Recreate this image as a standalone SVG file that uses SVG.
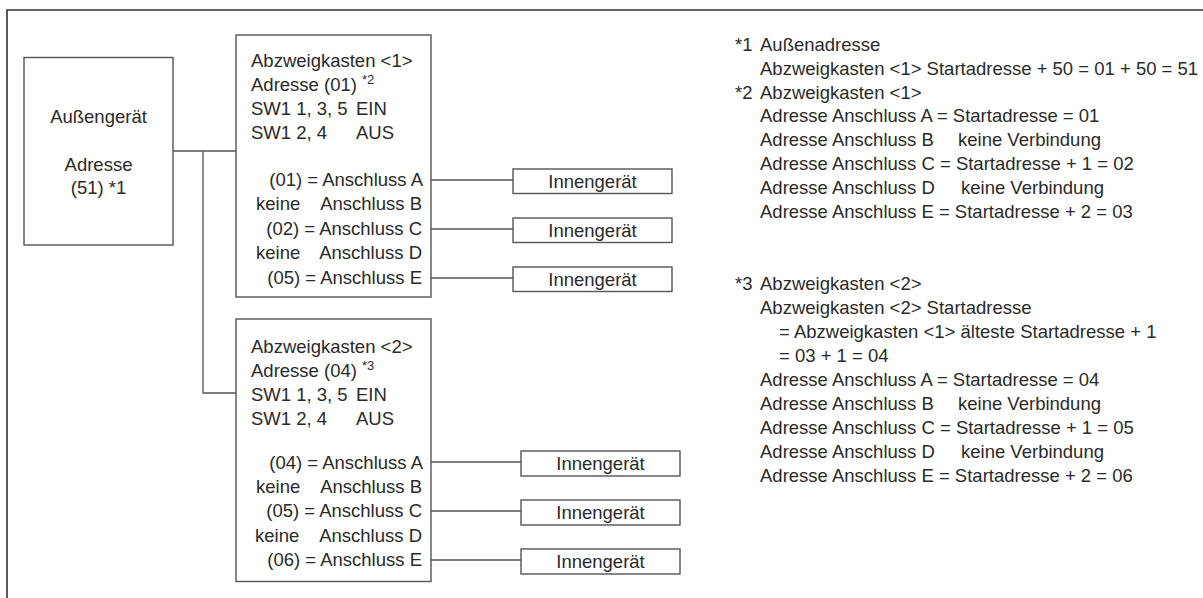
<svg xmlns="http://www.w3.org/2000/svg" width="1203" height="598" viewBox="0 0 1203 598">
<style>
text{font-family:"Liberation Sans",Arial,sans-serif;font-size:18.5px;fill:#2a2a2a}
.box{fill:#fff;stroke:#555;stroke-width:1.4}
.ln{fill:none;stroke:#555;stroke-width:1.3}
.frame{fill:none;stroke:#333;stroke-width:1.6}
.c{text-anchor:middle}
.r{text-anchor:end}
.sup{font-size:13px}
</style>
<rect width="1203" height="598" fill="#fff"/>
<path class="frame" d="M7 598V10H1203"/>
<g id="connectors">
<path class="ln" d="M173 151H236M203 151V393H236"/>
<path class="ln" d="M431 180H513M431 229H513M431 278H513"/>
<path class="ln" d="M431 462H521M431 511H521M431 560H521"/>
</g>
<g id="outdoor">
<rect class="box" x="24" y="57.5" width="149" height="187.5"/>
<text class="c" x="98.5" y="123">Außengerät</text>
<text class="c" x="98.5" y="171">Adresse</text>
<text class="c" x="98.5" y="194">(51) *1</text>
</g>
<g id="branch1">
<rect class="box" x="236" y="35" width="195" height="262"/>
<text x="251" y="67">Abzweigkasten &lt;1&gt;</text>
<text x="251" y="91">Adresse (01) <tspan class="sup" dy="-7">*2</tspan></text>
<text x="251" y="115">SW1 1, 3, 5</text><text x="356" y="115">EIN</text>
<text x="251" y="139">SW1 2, 4</text><text x="356" y="139">AUS</text>
<text class="r" x="423" y="186">(01) = Anschluss A</text>
<text x="256" y="210">keine</text><text class="r" x="422" y="210">Anschluss B</text>
<text class="r" x="422" y="235">(02) = Anschluss C</text>
<text x="256" y="259">keine</text><text class="r" x="422" y="259">Anschluss D</text>
<text class="r" x="422" y="284">(05) = Anschluss E</text>
</g>
<g id="branch2">
<rect class="box" x="236" y="319" width="195" height="262.5"/>
<text x="251" y="353">Abzweigkasten &lt;2&gt;</text>
<text x="251" y="377">Adresse (04) <tspan class="sup" dy="-7">*3</tspan></text>
<text x="251" y="401">SW1 1, 3, 5</text><text x="356" y="401">EIN</text>
<text x="251" y="425">SW1 2, 4</text><text x="356" y="425">AUS</text>
<text class="r" x="423" y="469">(04) = Anschluss A</text>
<text x="256" y="493">keine</text><text class="r" x="422" y="493">Anschluss B</text>
<text class="r" x="422" y="517">(05) = Anschluss C</text>
<text x="255" y="542">keine</text><text class="r" x="422" y="542">Anschluss D</text>
<text class="r" x="422" y="566">(06) = Anschluss E</text>
</g>
<g id="indoor1"><rect class="box" x="513" y="169" width="159" height="24.5"/><text class="c" x="592.5" y="187.5">Innengerät</text></g>
<g id="indoor2"><rect class="box" x="513" y="218" width="159" height="24.5"/><text class="c" x="592.5" y="236.5">Innengerät</text></g>
<g id="indoor3"><rect class="box" x="513" y="267" width="159" height="24.5"/><text class="c" x="592.5" y="285.5">Innengerät</text></g>
<g id="indoor4"><rect class="box" x="521" y="451" width="159" height="25"/><text class="c" x="600.5" y="470">Innengerät</text></g>
<g id="indoor5"><rect class="box" x="521" y="500" width="159" height="25"/><text class="c" x="600.5" y="519">Innengerät</text></g>
<g id="indoor6"><rect class="box" x="521" y="549" width="159" height="25"/><text class="c" x="600.5" y="568">Innengerät</text></g>
<g id="notes">
<text x="735" y="51">*1</text><text x="760" y="51">Außenadresse</text>
<text x="760" y="75">Abzweigkasten &lt;1&gt; Startadresse + 50 = 01 + 50 = 51</text>
<text x="735" y="99">*2</text><text x="760" y="99">Abzweigkasten &lt;1&gt;</text>
<text x="760" y="122">Adresse Anschluss A = Startadresse = 01</text>
<text x="760" y="146">Adresse Anschluss B<tspan x="958">keine Verbindung</tspan></text>
<text x="760" y="170">Adresse Anschluss C = Startadresse + 1 = 02</text>
<text x="760" y="194">Adresse Anschluss D<tspan x="961">keine Verbindung</tspan></text>
<text x="760" y="218">Adresse Anschluss E = Startadresse + 2 = 03</text>
<text x="735" y="290">*3</text><text x="760" y="290">Abzweigkasten &lt;2&gt;</text>
<text x="760" y="314">Abzweigkasten &lt;2&gt; Startadresse</text>
<text x="779" y="338">= Abzweigkasten &lt;1&gt; älteste Startadresse + 1</text>
<text x="779" y="362">= 03 + 1 = 04</text>
<text x="760" y="386">Adresse Anschluss A = Startadresse = 04</text>
<text x="760" y="410">Adresse Anschluss B<tspan x="958">keine Verbindung</tspan></text>
<text x="760" y="434">Adresse Anschluss C = Startadresse + 1 = 05</text>
<text x="760" y="458">Adresse Anschluss D<tspan x="961">keine Verbindung</tspan></text>
<text x="760" y="482">Adresse Anschluss E = Startadresse + 2 = 06</text>
</g>
</svg>
